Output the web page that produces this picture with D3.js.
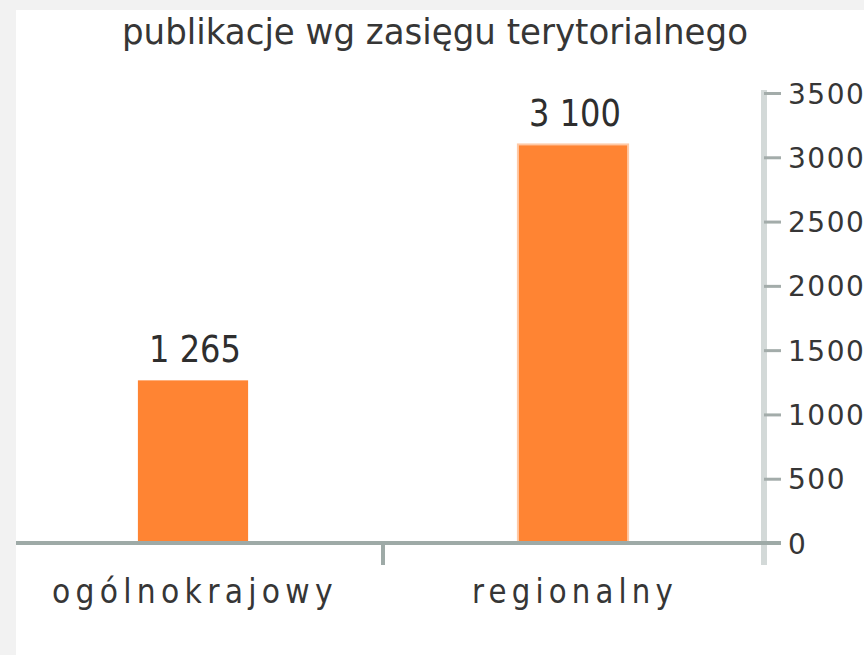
<!DOCTYPE html>
<html>
<head>
<meta charset="utf-8">
<script src="https://cdn.jsdelivr.net/npm/d3@7"></script>
<style>
  body { margin: 0; background: #f2f2f2; }
  svg { display: block; }
</style>
</head>
<body>
<div id="chart"></div>
<script>
const categories = ["ogólnokrajowy", "regionalny"];
const values = [1265, 3100];
const valueLabels = ["1 265", "3 100"];
const yTicks = [0, 500, 1000, 1500, 2000, 2500, 3000, 3500];
const title = "publikacje wg zasięgu terytorialnego";

const width = 864, height = 655;
const svg = d3.select("#chart").append("svg")
    .attr("width", width)
    .attr("height", height);

// white panel
svg.append("rect")
    .attr("x", 16).attr("y", 10)
    .attr("width", width - 16).attr("height", height - 10)
    .attr("fill", "#ffffff");

const font = "'DejaVu Sans', Verdana, sans-serif";

const x = d3.scaleBand()
    .domain(categories)
    .range([3, 763])
    .paddingInner(0.71)
    .paddingOuter(0.355);

const y = d3.scaleLinear()
    .domain([0, 3500])
    .range([543, 93]);

// title
svg.append("text")
    .attr("x", 435)
    .attr("y", 44)
    .attr("text-anchor", "middle")
    .attr("font-family", font)
    .attr("font-size", 36)
    .attr("textLength", 626)
    .attr("lengthAdjust", "spacingAndGlyphs")
    .attr("fill", "#363636")
    .text(title);

// right axis line
svg.append("line")
    .attr("x1", 764).attr("x2", 764)
    .attr("y1", y(3500) - 3).attr("y2", 565)
    .attr("stroke", "#d3d9d8")
    .attr("stroke-width", 6);

const yAxis = svg.append("g")
    .attr("transform", "translate(764,0)")
    .call(d3.axisRight(y).tickValues(yTicks).tickSize(17).tickPadding(7).tickFormat(d3.format("d")));
yAxis.select(".domain").remove();
yAxis.selectAll(".tick line")
    .attr("stroke", "#a3acaa")
    .attr("stroke-width", 3);
yAxis.selectAll(".tick text")
    .attr("font-family", font)
    .attr("font-size", 28)
    .attr("letter-spacing", "1.5px")
    .attr("dy", "0.36em")
    .attr("fill", "#363636");

// bars
svg.selectAll("rect.bar")
    .data(values)
    .enter()
    .append("rect")
    .attr("class", "bar")
    .attr("x", (d, i) => x(categories[i]))
    .attr("y", d => y(d))
    .attr("width", x.bandwidth())
    .attr("height", d => y(0) - y(d))
    .attr("fill", "#ff8433")
    .attr("stroke", (d, i) => i === 1 ? "#ffc9a6" : "none")
    .attr("stroke-width", 2);

// baseline axis
const xAxis = svg.append("g")
    .attr("transform", "translate(0," + y(0) + ")");
xAxis.append("line")
    .attr("x1", 16).attr("x2", 781)
    .attr("y1", 0).attr("y2", 0)
    .attr("stroke", "#9eaaa7")
    .attr("stroke-width", 4);
xAxis.append("line")
    .attr("x1", x(categories[1]) - x.step() * x.paddingInner() / 2)
    .attr("x2", x(categories[1]) - x.step() * x.paddingInner() / 2)
    .attr("y1", 0).attr("y2", 22)
    .attr("stroke", "#9eaaa7")
    .attr("stroke-width", 4);

// category labels
const catWidths = [286, 206];
svg.selectAll("text.cat")
    .data(categories)
    .enter()
    .append("text")
    .attr("class", "cat")
    .attr("x", d => x(d) + x.bandwidth() / 2 + 2)
    .attr("y", 603)
    .attr("text-anchor", "middle")
    .attr("font-family", font)
    .attr("font-size", 34)
    .attr("font-weight", 500)
    .attr("letter-spacing", "6px")
    .attr("textLength", (d, i) => catWidths[i])
    .attr("lengthAdjust", "spacingAndGlyphs")
    .attr("fill", "#363636")
    .text(d => d);

// value labels
svg.selectAll("text.val")
    .data(values)
    .enter()
    .append("text")
    .attr("class", "val")
    .attr("x", (d, i) => x(categories[i]) + x.bandwidth() / 2 + 2)
    .attr("y", d => y(d) - 18)
    .attr("text-anchor", "middle")
    .attr("font-family", font)
    .attr("font-size", 37)
    .attr("textLength", 92)
    .attr("lengthAdjust", "spacingAndGlyphs")
    .attr("fill", "#2e2e2e")
    .text((d, i) => valueLabels[i]);
</script>
</body>
</html>
